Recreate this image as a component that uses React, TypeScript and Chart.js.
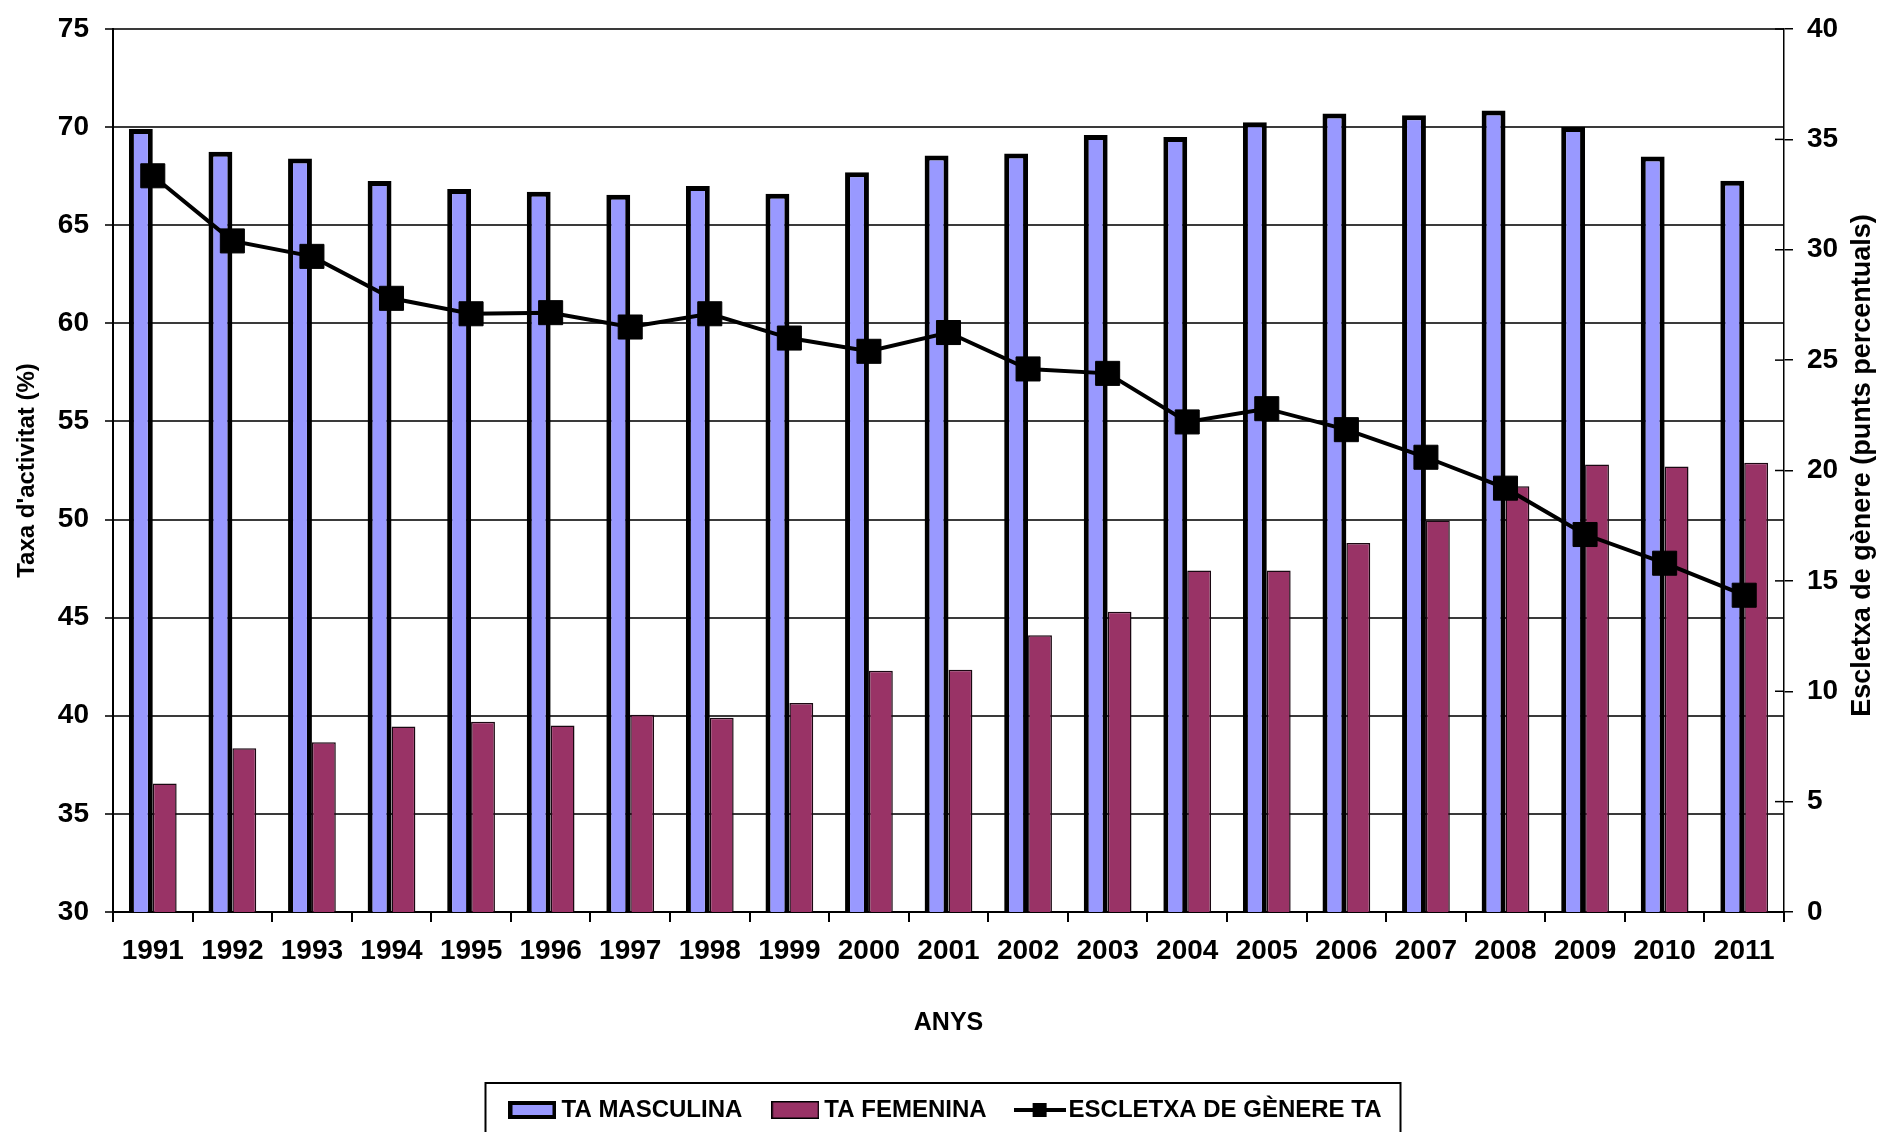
import React, { useEffect, useRef } from "react";
import Chart from "chart.js/auto";

const years = ["1991","1992","1993","1994","1995","1996","1997","1998","1999","2000","2001","2002","2003","2004","2005","2006","2007","2008","2009","2010","2011"];
const maleRate = [69.9, 68.75, 68.4, 67.25, 66.85, 66.7, 66.55, 67.0, 66.6, 67.7, 68.55, 68.65, 69.6, 69.5, 70.25, 70.7, 70.6, 70.85, 70.0, 68.5, 67.27];
const femaleRate = [36.55, 38.35, 38.65, 39.45, 39.7, 39.5, 40.05, 39.9, 40.65, 42.3, 42.35, 44.1, 45.3, 47.4, 47.4, 48.8, 49.95, 51.7, 52.8, 52.7, 52.9];
const genderGap = [33.35, 30.4, 29.7, 27.8, 27.1, 27.15, 26.5, 27.1, 26.0, 25.4, 26.25, 24.6, 24.4, 22.2, 22.8, 21.85, 20.6, 19.2, 17.1, 15.8, 14.35];

const seriesLabels = ["TA MASCULINA", "TA FEMENINA", "ESCLETXA DE GÈNERE TA"];
const leftTitle = "Taxa d'activitat (%)";
const rightTitle = "Escletxa de gènere (punts percentuals)";
const xTitle = "ANYS";
const leftRange = { min: 30, max: 75, step: 5 };
const rightRange = { min: 0, max: 40, step: 5 };

const FONT = "'Liberation Sans', Arial, sans-serif";

function makeSwatch(kind: string): HTMLCanvasElement {
  const c = document.createElement("canvas");
  const ctx = c.getContext("2d")!;
  if (kind === "line") {
    c.width = 52; c.height = 18;
    ctx.fillStyle = "#000";
    ctx.fillRect(0, 7, 52, 4);
    ctx.fillRect(19, 2, 14, 14);
  } else {
    c.width = 48; c.height = 18;
    ctx.fillStyle = kind === "male" ? "#9999FF" : "#993366";
    ctx.fillRect(0, 0, 48, 18);
    ctx.strokeStyle = "#000";
    const lw = kind === "male" ? 4 : 1.5;
    ctx.lineWidth = lw;
    ctx.strokeRect(lw / 2, lw / 2, 48 - lw, 18 - lw);
  }
  return c;
}

export default function App() {
  const ref = useRef<HTMLCanvasElement | null>(null);
  useEffect(() => {
    document.body.style.margin = "0";
    document.body.style.overflow = "hidden";
    const canvas = ref.current!;
    const swatches = [makeSwatch("male"), makeSwatch("female"), makeSwatch("line")];

    const extras = {
      id: "extras",
      afterDraw(chart: any) {
        const ctx = chart.ctx;
        const ca = chart.chartArea;
        const y1 = chart.scales.y1;
        ctx.save();
        ctx.strokeStyle = "#000";
        ctx.lineWidth = 1.5;
        y1.ticks.forEach((t: any) => {
          const yy = y1.getPixelForValue(t.value);
          ctx.beginPath();
          ctx.moveTo(ca.right - 9, yy);
          ctx.lineTo(ca.right, yy);
          ctx.stroke();
        });
        ctx.fillStyle = "#000";
        ctx.font = "bold 27px " + FONT;
        ctx.textAlign = "center";
        ctx.textBaseline = "middle";
        ctx.translate(ca.right + 79, (ca.top + ca.bottom) / 2 - 5);
        ctx.rotate(-Math.PI / 2);
        ctx.fillText(rightTitle, 0, 0);
        ctx.restore();
        const lg = chart.legend;
        const hb = lg.legendHitBoxes;
        if (hb && hb.length) {
          const first = hb[0];
          const last = hb[hb.length - 1];
          const cy = first.top + first.height / 2;
          ctx.save();
          ctx.strokeStyle = "#000";
          ctx.lineWidth = 2;
          const left = first.left - 30;
          ctx.strokeRect(left, cy - 27, last.left + last.width + 19 - left, 80);
          ctx.restore();
        }
      },
    };

    const chart = new Chart(canvas, {
      data: {
        labels: years,
        datasets: [
          {
            type: "bar",
            label: seriesLabels[0],
            data: maleRate,
            backgroundColor: "#9999FF",
            borderColor: "#000000",
            borderWidth: 5,
            yAxisID: "y",
            order: 1,
            categoryPercentage: 0.6,
            barPercentage: 1.0,
          },
          {
            type: "bar",
            label: seriesLabels[1],
            data: femaleRate,
            backgroundColor: "#993366",
            borderColor: "#1a0812",
            borderWidth: 1.5,
            yAxisID: "y",
            order: 2,
            categoryPercentage: 0.6,
            barPercentage: 1.0,
          },
          {
            type: "line",
            label: seriesLabels[2],
            data: genderGap,
            borderColor: "#000000",
            borderWidth: 4,
            pointStyle: "rect",
            pointRadius: 17,
            pointBackgroundColor: "#000000",
            pointBorderColor: "#000000",
            pointBorderWidth: 1,
            yAxisID: "y1",
            order: 0,
            tension: 0,
          },
        ],
      } as any,
      options: {
        responsive: false,
        animation: false,
        devicePixelRatio: 1,
        layout: { padding: { top: 29, left: 0, right: 0, bottom: 0 } },
        plugins: {
          tooltip: { enabled: false },
          legend: {
            position: "bottom",
            fullSize: false,
            labels: {
              usePointStyle: true,
              pointStyleWidth: 34,
              padding: 36,
              color: "#000",
              font: { family: FONT, size: 24, weight: "bold" },
              generateLabels: (ch: any) => {
                const items = (Chart as any).defaults.plugins.legend.labels.generateLabels(ch);
                items.sort((a: any, b: any) => a.datasetIndex - b.datasetIndex);
                items.forEach((it: any) => { it.pointStyle = swatches[it.datasetIndex]; });
                return items;
              },
            },
          },
        },
        scales: {
          x: {
            type: "category",
            offset: true,
            grid: { display: true, drawOnChartArea: false, offset: true, tickLength: 10, color: "#000", lineWidth: 2 },
            border: { display: true, color: "#000", width: 2 },
            ticks: { autoSkip: false, maxRotation: 0, padding: 12, color: "#000", font: { family: FONT, size: 28, weight: "bold" } },
            title: { display: true, text: xTitle, color: "#000", padding: { top: 0, bottom: 24 }, font: { family: FONT, size: 25, weight: "bold" } },
            afterFit: (s: any) => { s.height = 150; },
          },
          y: {
            type: "linear",
            position: "left",
            min: leftRange.min,
            max: leftRange.max,
            ticks: { stepSize: leftRange.step, padding: 16, color: "#000", font: { family: FONT, size: 28, weight: "bold", lineHeight: 0.8 } },
            grid: { color: "#3a3a3a", lineWidth: 2, tickLength: 8 },
            border: { display: true, color: "#000", width: 2 },
            title: { display: true, text: leftTitle, color: "#000", padding: { top: 13, bottom: 0 }, font: { family: FONT, size: 24, weight: "bold" } },
            afterFit: (s: any) => { s.width = 113; },
          },
          y1: {
            type: "linear",
            position: "right",
            min: rightRange.min,
            max: rightRange.max,
            ticks: { stepSize: rightRange.step, padding: 14, color: "#000", font: { family: FONT, size: 28, weight: "bold", lineHeight: 0.8 } },
            grid: { drawOnChartArea: false, color: "#000", lineWidth: 1.5, tickLength: 9 },
            border: { display: true, color: "#000", width: 1.5 },
            afterFit: (s: any) => { s.width = 97; },
          },
        },
      } as any,
      plugins: [extras],
    });
    return () => chart.destroy();
  }, []);
  return <canvas ref={ref} width={1881} height={1132} style={{ display: "block" }} />;
}
